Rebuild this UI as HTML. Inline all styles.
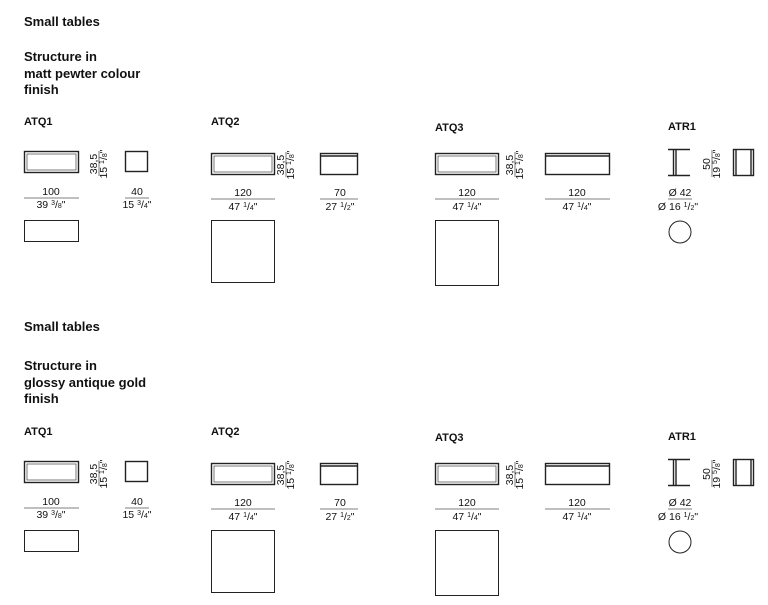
<!DOCTYPE html>
<html><head><meta charset="utf-8"><style>
body{margin:0;background:#fff}
svg{display:block;font-family:"Liberation Sans",sans-serif;fill:#111}
.h{font-size:13px;font-weight:bold}
.l{font-size:11px;font-weight:bold}
.d{font-size:10.5px;text-anchor:middle}
.s{font-size:7px}
.r{fill:none;stroke:#222;stroke-width:1.4}
.ri{fill:none;stroke:#444;stroke-width:0.7}
.t{fill:none;stroke:#222;stroke-width:1}
.dl{stroke:#555;stroke-width:0.8}
</style></head><body>
<svg width="768" height="605" viewBox="0 0 768 605" xmlns="http://www.w3.org/2000/svg">
<text class="h" x="24" y="26">Small tables</text>
<text class="h" x="24" y="61">Structure in</text>
<text class="h" x="24" y="78">matt pewter colour</text>
<text class="h" x="24" y="94">finish</text>

<text class="h" x="24" y="331">Small tables</text>
<text class="h" x="24" y="370">Structure in</text>
<text class="h" x="24" y="387">glossy antique gold</text>
<text class="h" x="24" y="403">finish</text>

<g id="sec1">
<text class="l" x="24" y="125">ATQ1</text>
<text class="l" x="211" y="125">ATQ2</text>
<text class="l" x="435" y="131">ATQ3</text>
<text class="l" x="668" y="130">ATR1</text>

<!-- ATQ1 -->
<rect class="r" x="24.5" y="151.5" width="54" height="21"/>
<rect class="ri" x="27" y="154" width="49" height="16"/>
<rect class="r" x="125.5" y="151.5" width="22" height="20"/>
<g transform="translate(97,176) rotate(-90)"><text class="d" x="12" y="0">38,5</text><line class="dl" x1="0" y1="2" x2="25" y2="2"/><text class="d" x="12" y="10">15 <tspan class="s" dy="-3">1</tspan><tspan dy="3">/</tspan><tspan class="s">8</tspan>"</text></g>
<text class="d" x="51" y="195">100</text><line class="dl" x1="24" y1="198" x2="79" y2="198"/><text class="d" x="51" y="208">39 <tspan class="s" dy="-3">3</tspan><tspan dy="3">/</tspan><tspan class="s">8</tspan>"</text>
<text class="d" x="137" y="195">40</text><line class="dl" x1="125" y1="198" x2="149" y2="198"/><text class="d" x="137" y="208">15 <tspan class="s" dy="-3">3</tspan><tspan dy="3">/</tspan><tspan class="s">4</tspan>"</text>
<rect class="t" x="24.5" y="220.5" width="54" height="21"/>

<!-- ATQ2 -->
<rect class="r" x="211.5" y="153.5" width="63" height="21"/>
<rect class="ri" x="214" y="156" width="58" height="16"/>
<rect class="r" x="320.5" y="153.5" width="37" height="21"/>
<line class="r" x1="321" y1="156" x2="357" y2="156"/>
<g transform="translate(284,177) rotate(-90)"><text class="d" x="12" y="0">38,5</text><line class="dl" x1="0" y1="2" x2="25" y2="2"/><text class="d" x="12" y="10">15 <tspan class="s" dy="-3">1</tspan><tspan dy="3">/</tspan><tspan class="s">8</tspan>"</text></g>
<text class="d" x="243" y="196">120</text><line class="dl" x1="211" y1="199" x2="275" y2="199"/><text class="d" x="243" y="210">47 <tspan class="s" dy="-3">1</tspan><tspan dy="3">/</tspan><tspan class="s">4</tspan>"</text>
<text class="d" x="340" y="196">70</text><line class="dl" x1="320" y1="199" x2="358" y2="199"/><text class="d" x="340" y="210">27 <tspan class="s" dy="-3">1</tspan><tspan dy="3">/</tspan><tspan class="s">2</tspan>"</text>
<rect class="t" x="211.5" y="220.5" width="63" height="62"/>

<!-- ATQ3 -->
<rect class="r" x="435.5" y="153.5" width="63" height="21"/>
<rect class="ri" x="438" y="156" width="58" height="16"/>
<rect class="r" x="545.5" y="153.5" width="64" height="21"/>
<line class="r" x1="546" y1="156" x2="609" y2="156"/>
<g transform="translate(513,177) rotate(-90)"><text class="d" x="12" y="0">38,5</text><line class="dl" x1="0" y1="2" x2="25" y2="2"/><text class="d" x="12" y="10">15 <tspan class="s" dy="-3">1</tspan><tspan dy="3">/</tspan><tspan class="s">8</tspan>"</text></g>
<text class="d" x="467" y="196">120</text><line class="dl" x1="435" y1="199" x2="499" y2="199"/><text class="d" x="467" y="210">47 <tspan class="s" dy="-3">1</tspan><tspan dy="3">/</tspan><tspan class="s">4</tspan>"</text>
<text class="d" x="577" y="196">120</text><line class="dl" x1="545" y1="199" x2="610" y2="199"/><text class="d" x="577" y="210">47 <tspan class="s" dy="-3">1</tspan><tspan dy="3">/</tspan><tspan class="s">4</tspan>"</text>
<rect class="t" x="435.5" y="220.5" width="63" height="65"/>

<!-- ATR1 -->
<path class="r" d="M668 149.5H690M668 175.5H690M673.5 150V175M676 150V175"/>
<g transform="translate(710,177) rotate(-90)"><text class="d" x="13" y="0">50</text><line class="dl" x1="0" y1="2" x2="27" y2="2"/><text class="d" x="13" y="10">19 <tspan class="s" dy="-3">5</tspan><tspan dy="3">/</tspan><tspan class="s">8</tspan>"</text></g>
<rect class="r" x="733.5" y="149.5" width="20" height="26"/>
<line class="r" x1="736" y1="150" x2="736" y2="175"/><line class="r" x1="751" y1="150" x2="751" y2="175"/>
<text class="d" x="680" y="196">Ø 42</text><line class="dl" x1="668" y1="199" x2="692" y2="199"/><text class="d" x="678" y="210">Ø 16 <tspan class="s" dy="-3">1</tspan><tspan dy="3">/</tspan><tspan class="s">2</tspan>"</text>
<circle class="t" cx="680" cy="232" r="11"/>
</g>
<use href="#sec1" transform="translate(0,310)"/>
</svg>
</body></html>
